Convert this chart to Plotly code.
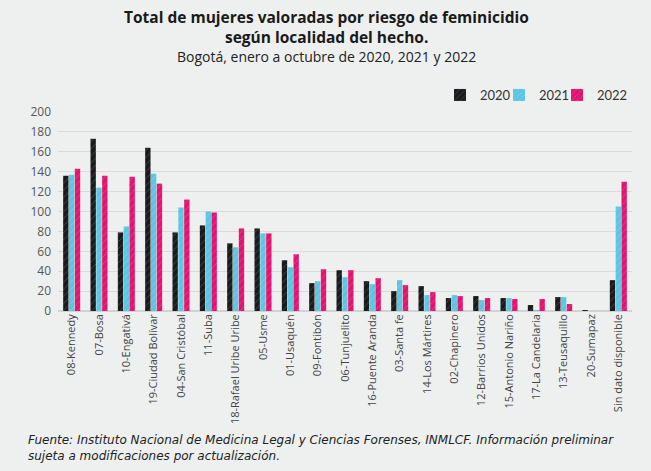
import plotly.graph_objects as go

localidades = ["08-Kennedy", "07-Bosa", "10-Engativá", "19-Ciudad Bolívar", "04-San Cristóbal",
               "11-Suba", "18-Rafael Uribe Uribe", "05-Usme", "01-Usaquén", "09-Fontibón",
               "06-Tunjuelito", "16-Puente Aranda", "03-Santa fe", "14-Los Mártires", "02-Chapinero",
               "12-Barrios Unidos", "15-Antonio Nariño", "17-La Candelaria", "13-Teusaquillo",
               "20-Sumapaz", "Sin dato disponible"]
v2020 = [136, 173, 79, 164, 79, 86, 68, 83, 51, 28, 41, 30, 20, 25, 13, 15, 13, 6, 14, 1, 31]
v2021 = [137, 124, 85, 138, 104, 100, 64, 78, 44, 30, 34, 27, 31, 16, 16, 11, 13, 1, 14, 0, 105]
v2022 = [143, 136, 135, 128, 112, 99, 83, 78, 57, 42, 41, 33, 26, 19, 15, 13, 12, 12, 7, 0, 130]

colors = {"2020": "#1b1b1d", "2021": "#5cc6e2", "2022": "#e2146f"}
bg = "#eef0f0"

n = len(localidades)
L, R, T, B = 58, 19, 111, 160
ph = 471 - T - B
pw = 651 - L - R


def px_x(x):
    return (x - L) / pw


def px_y(y):
    return 1 - (y - T) / ph


fig = go.Figure()
legend_keys = ["legend", "legend2", "legend3"]
for (name, vals), lk in zip([("2020", v2020), ("2021", v2021), ("2022", v2022)], legend_keys):
    fig.add_trace(go.Bar(
        x=localidades, y=vals, name=name, legend=lk,
        marker=dict(color=colors[name], line=dict(width=0),
                    pattern=dict(shape="/", fgcolor="rgba(255,255,255,0.45)", size=5, solidity=0.15,
                                 fillmode="overlay")),
    ))

leg_common = dict(orientation="h", yanchor="middle", xanchor="left",
                  font=dict(size=13, family="Lato, sans-serif", color="#333333"),
                  bgcolor="rgba(0,0,0,0)", itemwidth=30)
legend_left = [440, 499, 557]

fig.update_layout(
    width=651, height=471,
    paper_bgcolor=bg, plot_bgcolor=bg,
    margin=dict(l=L, r=R, t=T, b=B, autoexpand=False),
    barmode="group", bargap=0.36, bargroupgap=0.08,
    font=dict(family="Open Sans, Lato, sans-serif", color="#333333"),
    showlegend=True,
    legend=dict(x=px_x(legend_left[0]), y=px_y(95), **leg_common),
    legend2=dict(x=px_x(legend_left[1]), y=px_y(95), **leg_common),
    legend3=dict(x=px_x(legend_left[2]), y=px_y(95), **leg_common),
    xaxis=dict(tickangle=-90, tickfont=dict(size=11, family="Open Sans, sans-serif", color="#444"),
               showgrid=False, showline=False, ticks="", range=[-0.5, n - 0.5]),
    yaxis=dict(range=[0, 201], tickvals=list(range(0, 201, 20)),
               tickfont=dict(size=12, family="Open Sans, sans-serif", color="#555"),
               gridcolor="#d8dbdb", gridwidth=1, zeroline=True, zerolinecolor="#d0d3d3",
               showline=False, ticks="", ticklabelstandoff=6),
    annotations=[
        dict(text="<b>Total de mujeres valoradas por riesgo de feminicidio</b>",
             xref="paper", yref="paper", x=px_x(326), y=px_y(17), xanchor="center", yanchor="middle",
             showarrow=False, font=dict(size=15.5, family="Open Sans, sans-serif", color="#1a1a1a")),
        dict(text="<b>según localidad del hecho.</b>",
             xref="paper", yref="paper", x=px_x(326), y=px_y(37), xanchor="center", yanchor="middle",
             showarrow=False, font=dict(size=15.5, family="Open Sans, sans-serif", color="#1a1a1a")),
        dict(text="Bogotá, enero a octubre de 2020, 2021 y 2022",
             xref="paper", yref="paper", x=px_x(326), y=px_y(56), xanchor="center", yanchor="middle",
             showarrow=False, font=dict(size=14, family="Open Sans, sans-serif", color="#222")),
        dict(text="<i>Fuente: Instituto Nacional de Medicina Legal y Ciencias Forenses, INMLCF. Información preliminar<br>sujeta a modificaciones por actualización.</i>",
             xref="paper", yref="paper", x=px_x(26), y=px_y(431), xanchor="left", yanchor="top",
             showarrow=False, font=dict(size=12, family="DejaVu Sans, sans-serif", color="#222"),
             align="left"),
    ],
)

fig.write_html("out.html", config={"displayModeBar": False},
               post_script="document.body.style.margin='0';document.body.style.background='#eef0f0';")
